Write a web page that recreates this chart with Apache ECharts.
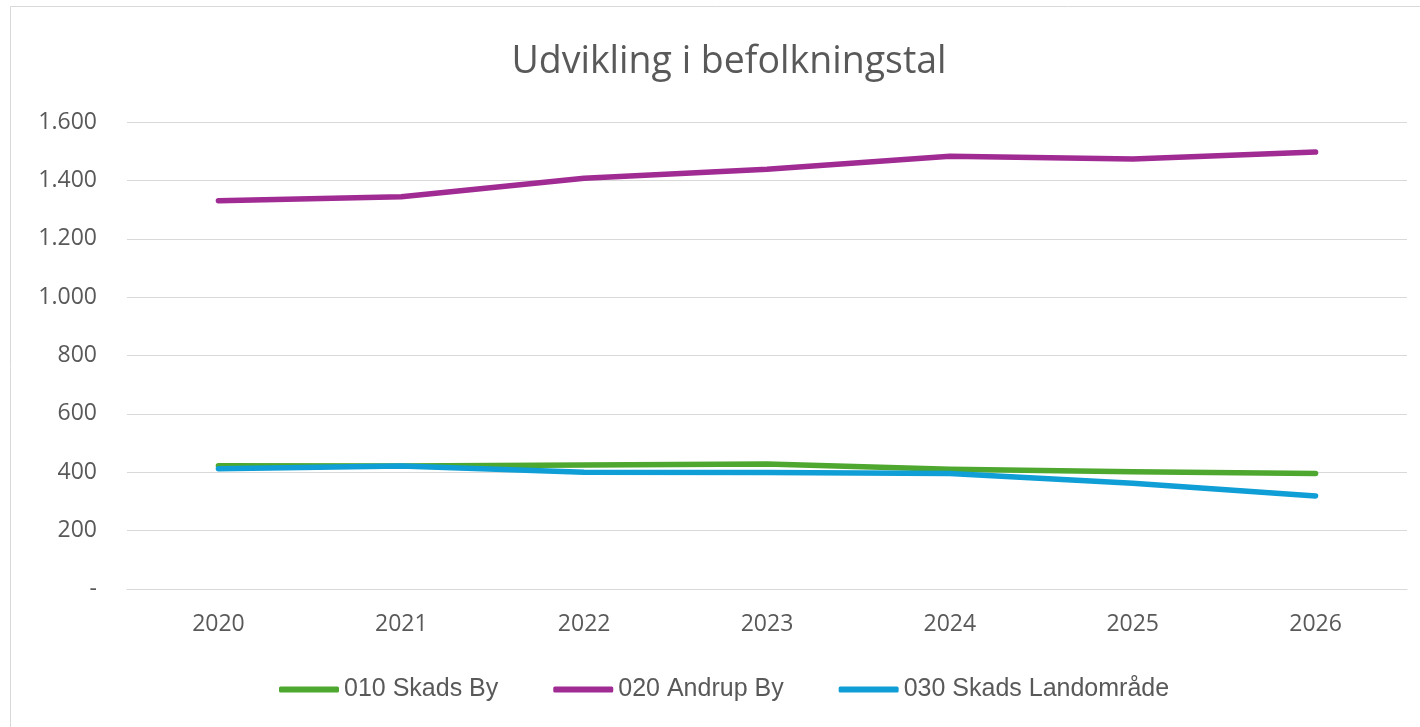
<!DOCTYPE html>
<html><head><meta charset="utf-8">
<script src="https://cdn.jsdelivr.net/npm/echarts@6/dist/echarts.min.js"></script>
<style>html,body{margin:0;padding:0;background:#fff}#c{width:1420px;height:727px}</style>
</head><body><div id="c"></div>
<script>
const years = ['2020','2021','2022','2023','2024','2025','2026'];
const skadsBy = [422, 421, 425, 428, 410, 402, 396];
const andrupBy = [1330, 1344, 1407, 1438, 1483, 1473, 1497];
const skadsLand = [412, 421, 400, 399, 396, 362, 319];
const seriesNames = ['010 Skads By', '020 Andrup By', '030 Skads Landområde'];
const colors = ['#4EA72E', '#A02B93', '#0F9ED5'];
const titleText = 'Udvikling i befolkningstal';

function fmt(v){
  if (v === 0) return '-';
  return String(v).replace(/\B(?=(\d{3})+(?!\d))/g, '.');
}

const chart = echarts.init(document.getElementById('c'));
const mk = (name, data, color) => ({
  name, type: 'line', data, symbol: 'none',
  lineStyle: { width: 5.5, color, cap: 'round', join: 'round' },
  itemStyle: { color }
});
chart.setOption({
  animation: false,
  backgroundColor: '#fff',
  graphic: [{ type: 'rect', shape: { x: 10.5, y: 6.5, width: 1430, height: 740 },
    style: { fill: 'none', stroke: '#d9d9d9', lineWidth: 1 }, silent: true }],
  title: { text: titleText, left: 724, top: 38, textAlign: 'center',
    textStyle: { fontFamily: 'Open Sans', fontSize: 37.5, fontWeight: 'normal', color: '#595959' } },
  grid: { left: 127, right: 13, top: 122, bottom: 138, containLabel: false },
  legend: { top: 672, left: 274, itemWidth: 60, itemHeight: 6, itemGap: 55,
    icon: 'roundRect',
    textStyle: { fontFamily: 'Liberation Sans', fontSize: 25, color: '#595959' },
    data: seriesNames },
  xAxis: { type: 'category', data: years, boundaryGap: true,
    axisLine: { show: true, lineStyle: { color: '#d9d9d9', width: 1 } },
    axisTick: { show: false },
    axisLabel: { margin: 24, fontFamily: 'Open Sans', fontSize: 23, color: '#595959' } },
  yAxis: { type: 'value', min: 0, max: 1600, interval: 200,
    axisLine: { show: false }, axisTick: { show: false },
    splitLine: { lineStyle: { color: '#d9d9d9', width: 1 } },
    axisLabel: { margin: 30, fontFamily: 'Open Sans', fontSize: 23, color: '#595959', formatter: fmt } },
  series: [mk(seriesNames[0], skadsBy, colors[0]), mk(seriesNames[1], andrupBy, colors[1]), mk(seriesNames[2], skadsLand, colors[2])]
});
</script></body></html>
